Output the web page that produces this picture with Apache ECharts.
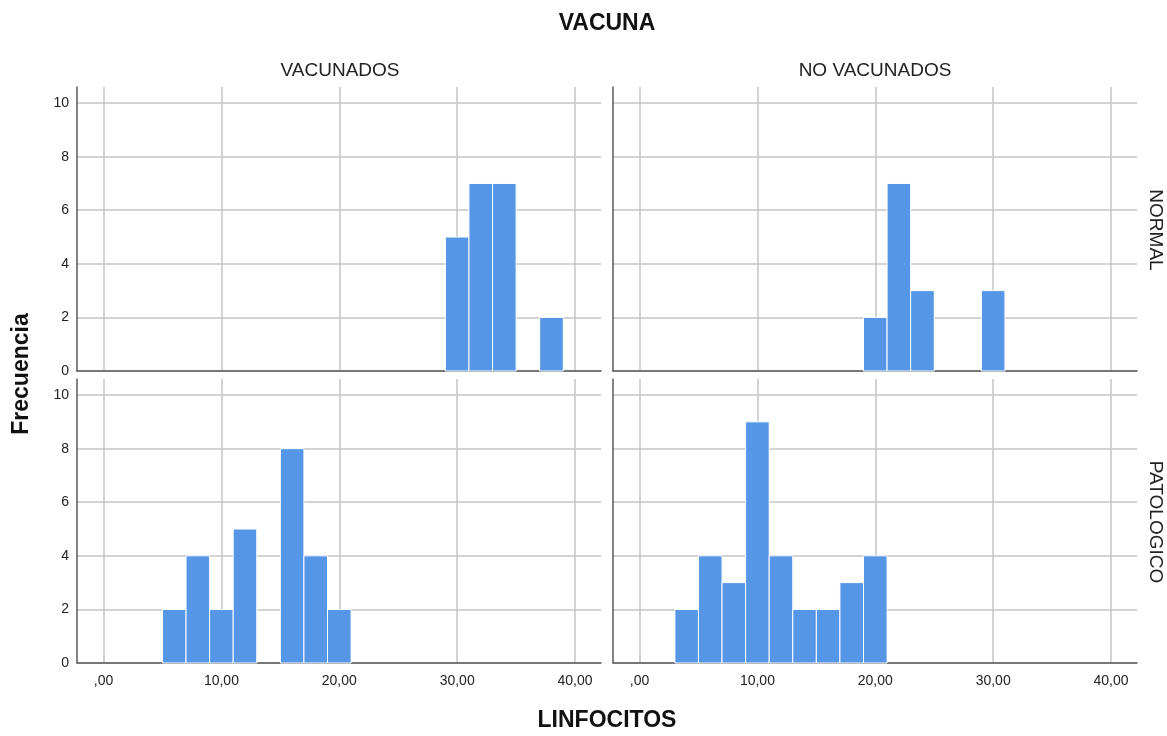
<!DOCTYPE html>
<html>
<head>
<meta charset="utf-8">
<script src="https://cdn.jsdelivr.net/npm/echarts@6/dist/echarts.min.js"></script>
<style>
html,body{margin:0;padding:0;background:#fff;}
#c{width:1167px;height:736px;}
</style>
</head>
<body>
<div id="c"></div>
<script>
// ---- data ----
const binWidth = 2;
const columnLabels = ['VACUNADOS', 'NO VACUNADOS'];
const rowLabels = ['NORMAL', 'PATOLOGICO'];
const xTicks = [0, 10, 20, 30, 40];
const yTicks = [0, 2, 4, 6, 8, 10];

// bin lower edges and counts per panel
const vacNormalBins   = [29, 31, 33, 37];
const vacNormalCounts = [5, 7, 7, 2];
const noVacNormalBins   = [19, 21, 23, 29];
const noVacNormalCounts = [2, 7, 3, 3];
const vacPatBins   = [5, 7, 9, 11, 15, 17, 19];
const vacPatCounts = [2, 4, 2, 5, 8, 4, 2];
const noVacPatBins   = [3, 5, 7, 9, 11, 13, 15, 17, 19];
const noVacPatCounts = [2, 4, 3, 9, 4, 2, 2, 3, 4];

const panels = [
  {bins: vacNormalBins, counts: vacNormalCounts},
  {bins: noVacNormalBins, counts: noVacNormalCounts},
  {bins: vacPatBins, counts: vacPatCounts},
  {bins: noVacPatBins, counts: noVacPatCounts}
];

// ---- layout ----
const FONT = '"Liberation Sans", Arial, sans-serif';
const gridPos = [
  {left: 77, top: 87, width: 524, height: 284},
  {left: 613, top: 87, width: 524, height: 284},
  {left: 77, top: 379, width: 524, height: 284},
  {left: 613, top: 379, width: 524, height: 284}
];

function fmtX(v){
  if (v === 0) return ',00';
  return String(v) + ',00';
}

const grids = gridPos.map(g => Object.assign({containLabel: false}, g));
const xAxes = gridPos.map((g, i) => ({
  type: 'value', gridIndex: i, min: -2.25, max: 42.2,
  axisLine: {show: true, onZero: false, lineStyle: {color: '#5a5a5a', width: 1.5}},
  axisTick: {show: false, customValues: xTicks},
  axisLabel: {show: i >= 2, customValues: xTicks, formatter: fmtX, color: '#222', fontFamily: FONT, fontSize: 14, margin: 11},
  splitLine: {show: true, lineStyle: {color: '#c4c4c4', width: 1.5}}
}));
const yAxes = gridPos.map((g, i) => ({
  type: 'value', gridIndex: i, min: 0, max: 10.6,
  axisLine: {show: true, onZero: false, lineStyle: {color: '#5a5a5a', width: 1.5}},
  axisTick: {show: false, customValues: yTicks},
  axisLabel: {show: i % 2 === 0, customValues: yTicks, color: '#222', fontFamily: FONT, fontSize: 14, margin: 8},
  splitLine: {show: true, lineStyle: {color: '#c4c4c4', width: 1.5}}
}));

function renderItem(params, api){
  const x0 = api.value(0), c = api.value(1);
  const p0 = api.coord([x0, 0]);
  const p1 = api.coord([x0 + binWidth, c]);
  return {
    type: 'rect',
    shape: {x: p0[0], y: p1[1], width: p1[0] - p0[0], height: p0[1] - p1[1]},
    style: {fill: '#5596E6', stroke: '#ffffff', lineWidth: 1}
  };
}

const series = panels.map((p, i) => ({
  type: 'custom', xAxisIndex: i, yAxisIndex: i,
  renderItem: renderItem,
  data: p.bins.map((b, k) => [b, p.counts[k]]),
  z: 5
}));

const graphic = [
  {type: 'text', x: 607, y: 24, style: {text: 'VACUNA', font: 'bold 23px ' + FONT, fill: '#111', align: 'center', verticalAlign: 'middle'}},
  {type: 'text', x: 340, y: 71, style: {text: columnLabels[0], font: '19px ' + FONT, fill: '#222', align: 'center', verticalAlign: 'middle'}},
  {type: 'text', x: 875, y: 71, style: {text: columnLabels[1], font: '19px ' + FONT, fill: '#222', align: 'center', verticalAlign: 'middle'}},
  {type: 'text', x: 1155, y: 230, rotation: -Math.PI / 2, style: {text: rowLabels[0], font: '19px ' + FONT, fill: '#222', align: 'center', verticalAlign: 'middle'}},
  {type: 'text', x: 1155, y: 522, rotation: -Math.PI / 2, style: {text: rowLabels[1], font: '19px ' + FONT, fill: '#222', align: 'center', verticalAlign: 'middle'}},
  {type: 'text', x: 22, y: 374, rotation: Math.PI / 2, style: {text: 'Frecuencia', font: 'bold 23px ' + FONT, fill: '#111', align: 'center', verticalAlign: 'middle'}},
  {type: 'text', x: 607, y: 721, style: {text: 'LINFOCITOS', font: 'bold 23px ' + FONT, fill: '#111', align: 'center', verticalAlign: 'middle'}}
];

const chart = echarts.init(document.getElementById('c'), null, {renderer: 'canvas'});
chart.setOption({
  animation: false,
  backgroundColor: '#ffffff',
  grid: grids,
  xAxis: xAxes,
  yAxis: yAxes,
  series: series,
  graphic: graphic
});
</script>
</body>
</html>
